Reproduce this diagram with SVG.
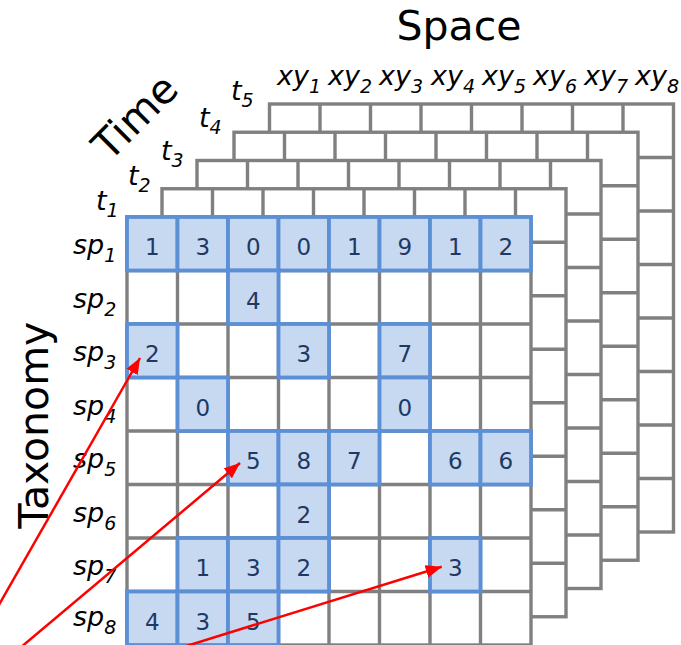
<svg xmlns="http://www.w3.org/2000/svg" xmlns:xlink="http://www.w3.org/1999/xlink" width="681" height="645" viewBox="0 0 681 645">
<style>
.g{fill:#fff;stroke:#808080;stroke-width:3.4}
.gl{fill:none;stroke:#808080;stroke-width:3.4}
.b{fill:#c6d9f0;stroke:#5b8fd6;stroke-width:3.8}
.n{font-family:"DejaVu Sans",Verdana,sans-serif;font-size:23px;fill:#1f3864;text-anchor:middle}
.lab{font-family:"DejaVu Sans",Verdana,sans-serif;font-size:27px;font-style:italic;fill:#000}
.sub{font-size:19px}
.big{font-family:"DejaVu Sans",Verdana,sans-serif;font-size:41px;fill:#000;text-anchor:middle}
.arr{stroke:#ff0000;stroke-width:2.5;fill:none;marker-end:url(#ah)}
</style>
<defs>
<marker id="ah" markerUnits="userSpaceOnUse" markerWidth="17" markerHeight="13" refX="16" refY="6.5" orient="auto">
<path d="M0,0 L16,6.5 L0,13 z" fill="#ff0000"/>
</marker>
<g id="grid">
<rect class="g" x="0" y="0" width="404" height="428"/>
<path class="gl" d="M50.5,0V428M101,0V428M151.5,0V428M202,0V428M252.5,0V428M303,0V428M353.5,0V428M0,53.5H404M0,107H404M0,160.5H404M0,214H404M0,267.5H404M0,321H404M0,374.5H404"/>
</g>
</defs>
<g id="layer-t5"><use xlink:href="#grid" href="#grid" transform="translate(269.5,104)"/></g>
<g id="layer-t4"><use xlink:href="#grid" href="#grid" transform="translate(234,132.25)"/></g>
<g id="layer-t3"><use xlink:href="#grid" href="#grid" transform="translate(197,160.5)"/></g>
<g id="layer-t2"><use xlink:href="#grid" href="#grid" transform="translate(162,188.75)"/></g>
<g id="layer-t1"><use xlink:href="#grid" href="#grid" transform="translate(127,217)"/></g>
<g id="cells">
<rect class="b" x="127" y="217" width="50.5" height="53.5"/>
<rect class="b" x="177.5" y="217" width="50.5" height="53.5"/>
<rect class="b" x="228" y="217" width="50.5" height="53.5"/>
<rect class="b" x="278.5" y="217" width="50.5" height="53.5"/>
<rect class="b" x="329" y="217" width="50.5" height="53.5"/>
<rect class="b" x="379.5" y="217" width="50.5" height="53.5"/>
<rect class="b" x="430" y="217" width="50.5" height="53.5"/>
<rect class="b" x="480.5" y="217" width="50.5" height="53.5"/>
<rect class="b" x="228" y="270.5" width="50.5" height="53.5"/>
<rect class="b" x="127" y="324" width="50.5" height="53.5"/>
<rect class="b" x="278.5" y="324" width="50.5" height="53.5"/>
<rect class="b" x="379.5" y="324" width="50.5" height="53.5"/>
<rect class="b" x="177.5" y="377.5" width="50.5" height="53.5"/>
<rect class="b" x="379.5" y="377.5" width="50.5" height="53.5"/>
<rect class="b" x="228" y="431" width="50.5" height="53.5"/>
<rect class="b" x="278.5" y="431" width="50.5" height="53.5"/>
<rect class="b" x="329" y="431" width="50.5" height="53.5"/>
<rect class="b" x="430" y="431" width="50.5" height="53.5"/>
<rect class="b" x="480.5" y="431" width="50.5" height="53.5"/>
<rect class="b" x="278.5" y="484.5" width="50.5" height="53.5"/>
<rect class="b" x="177.5" y="538" width="50.5" height="53.5"/>
<rect class="b" x="228" y="538" width="50.5" height="53.5"/>
<rect class="b" x="278.5" y="538" width="50.5" height="53.5"/>
<rect class="b" x="430" y="538" width="50.5" height="53.5"/>
<rect class="b" x="127" y="591.5" width="50.5" height="53.5"/>
<rect class="b" x="177.5" y="591.5" width="50.5" height="53.5"/>
<rect class="b" x="228" y="591.5" width="50.5" height="53.5"/>
<text class="n" x="152.25" y="255">1</text>
<text class="n" x="202.75" y="255">3</text>
<text class="n" x="253.25" y="255">0</text>
<text class="n" x="303.75" y="255">0</text>
<text class="n" x="354.25" y="255">1</text>
<text class="n" x="404.75" y="255">9</text>
<text class="n" x="455.25" y="255">1</text>
<text class="n" x="505.75" y="255">2</text>
<text class="n" x="253.25" y="308.5">4</text>
<text class="n" x="152.25" y="362">2</text>
<text class="n" x="303.75" y="362">3</text>
<text class="n" x="404.75" y="362">7</text>
<text class="n" x="202.75" y="415.5">0</text>
<text class="n" x="404.75" y="415.5">0</text>
<text class="n" x="253.25" y="469">5</text>
<text class="n" x="303.75" y="469">8</text>
<text class="n" x="354.25" y="469">7</text>
<text class="n" x="455.25" y="469">6</text>
<text class="n" x="505.75" y="469">6</text>
<text class="n" x="303.75" y="522.5">2</text>
<text class="n" x="202.75" y="576">1</text>
<text class="n" x="253.25" y="576">3</text>
<text class="n" x="303.75" y="576">2</text>
<text class="n" x="455.25" y="576">3</text>
<text class="n" x="152.25" y="629.5">4</text>
<text class="n" x="202.75" y="629.5">3</text>
<text class="n" x="253.25" y="629.5">5</text>
</g>
<g id="species-labels">
<text class="lab" x="73" y="254">sp<tspan class="sub" dy="8">1</tspan></text>
<text class="lab" x="73" y="307.5">sp<tspan class="sub" dy="8">2</tspan></text>
<text class="lab" x="73" y="361">sp<tspan class="sub" dy="8">3</tspan></text>
<text class="lab" x="73" y="414.5">sp<tspan class="sub" dy="8">4</tspan></text>
<text class="lab" x="73" y="468">sp<tspan class="sub" dy="8">5</tspan></text>
<text class="lab" x="73" y="521.5">sp<tspan class="sub" dy="8">6</tspan></text>
<text class="lab" x="73" y="575">sp<tspan class="sub" dy="8">7</tspan></text>
<text class="lab" x="73" y="626">sp<tspan class="sub" dy="8">8</tspan></text>
</g>
<g id="time-labels">
<text class="lab" x="96" y="210">t<tspan class="sub" dy="7">1</tspan></text>
<text class="lab" x="128" y="185">t<tspan class="sub" dy="7">2</tspan></text>
<text class="lab" x="161" y="160">t<tspan class="sub" dy="7">3</tspan></text>
<text class="lab" x="199" y="127">t<tspan class="sub" dy="7">4</tspan></text>
<text class="lab" x="231" y="100">t<tspan class="sub" dy="7">5</tspan></text>
</g>
<g id="space-labels">
<text class="lab" x="277" y="85">xy<tspan class="sub" dy="8">1</tspan></text>
<text class="lab" x="328" y="85">xy<tspan class="sub" dy="8">2</tspan></text>
<text class="lab" x="379" y="85">xy<tspan class="sub" dy="8">3</tspan></text>
<text class="lab" x="431" y="85">xy<tspan class="sub" dy="8">4</tspan></text>
<text class="lab" x="482" y="85">xy<tspan class="sub" dy="8">5</tspan></text>
<text class="lab" x="533" y="85">xy<tspan class="sub" dy="8">6</tspan></text>
<text class="lab" x="584" y="85">xy<tspan class="sub" dy="8">7</tspan></text>
<text class="lab" x="635" y="85">xy<tspan class="sub" dy="8">8</tspan></text>
</g>
<g id="axis-titles">
<text class="big" x="459" y="40">Space</text>
<text class="big" transform="translate(145,127) rotate(-45)">Time</text>
<text class="big" transform="translate(48,425) rotate(-90)">Taxonomy</text>
</g>
<g id="connectors">
<line class="arr" x1="-10" y1="620.5" x2="140" y2="358"/>
<line class="arr" x1="20" y1="648" x2="240" y2="463"/>
<line class="arr" x1="180" y1="648" x2="441.7" y2="566.7"/>
</g>
</svg>
